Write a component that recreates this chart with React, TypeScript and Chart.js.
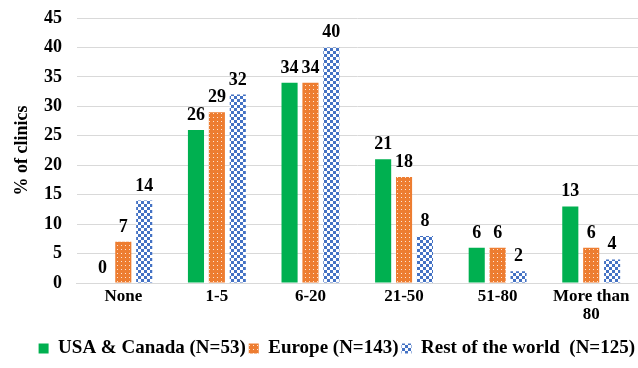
import React, { useEffect, useRef } from "react";
import { Chart, registerables } from "chart.js";

Chart.register(...registerables);

const categories: (string | string[])[] = ["None", "1-5", "6-20", "21-50", "51-80", ["More than", "80"]];
const usaCanada = [0, 26, 34, 21, 6, 13];
const europe = [7, 29, 34, 18, 6, 6];
const restOfWorld = [14, 32, 40, 8, 2, 4];
const seriesNames = ["USA & Canada (N=53)", "Europe (N=143)", "Rest of the world  (N=125)"];
const yTicks = { min: 0, max: 45, step: 5 };

const FONT = "'Liberation Serif', 'Times New Roman', serif";

function dotPattern(): CanvasPattern | string {
  const c = document.createElement("canvas");
  c.width = 4;
  c.height = 4;
  const ctx = c.getContext("2d");
  if (!ctx) return "#ED7D31";
  ctx.fillStyle = "#ED7D31";
  ctx.fillRect(0, 0, 4, 4);
  ctx.fillStyle = "rgba(255,255,255,0.8)";
  ctx.fillRect(1, 1, 1, 1);
  return ctx.createPattern(c, "repeat") || "#ED7D31";
}

function checkPattern(): CanvasPattern | string {
  const c = document.createElement("canvas");
  c.width = 6;
  c.height = 6;
  const ctx = c.getContext("2d");
  if (!ctx) return "#4472C4";
  ctx.fillStyle = "#ffffff";
  ctx.fillRect(0, 0, 6, 6);
  ctx.fillStyle = "#4472C4";
  ctx.fillRect(0, 0, 3, 3);
  ctx.fillRect(3, 3, 3, 3);
  return ctx.createPattern(c, "repeat") || "#4472C4";
}

const labelPlugin = {
  id: "barLabels",
  afterDatasetsDraw(chart: any) {
    const ctx = chart.ctx;
    ctx.save();
    ctx.font = `bold 18px ${FONT}`;
    ctx.fillStyle = "#000";
    ctx.textAlign = "center";
    ctx.textBaseline = "alphabetic";
    chart.data.datasets.forEach((ds: any, i: number) => {
      const meta = chart.getDatasetMeta(i);
      meta.data.forEach((bar: any, j: number) => {
        ctx.fillText(String(ds.data[j]), bar.x, bar.y - 10);
      });
    });
    ctx.restore();
  },
};

export default function App() {
  const ref = useRef<HTMLCanvasElement>(null);
  useEffect(() => {
    if (!ref.current) return;
    const chart = new Chart(ref.current, {
      type: "bar",
      data: {
        labels: categories,
        datasets: [
          { label: seriesNames[0], data: usaCanada, backgroundColor: "#00B050" },
          { label: seriesNames[1], data: europe, backgroundColor: dotPattern() as any },
          { label: seriesNames[2], data: restOfWorld, backgroundColor: checkPattern() as any },
        ],
      },
      options: {
        animation: false,
        responsive: false,
        maintainAspectRatio: false,
        layout: { padding: { left: 8, right: 0, top: 0, bottom: 0 } },
        datasets: { bar: { categoryPercentage: 0.67, barPercentage: 0.77 } } as any,
        plugins: {
          tooltip: { enabled: false },
          legend: {
            position: "bottom",
            align: "end",
            labels: {
              font: { family: FONT, size: 19, weight: "bold" },
              color: "#000",
              boxWidth: 10,
              boxHeight: 10,
              padding: 3,
            },
          },
        },
        scales: {
          x: {
            grid: { display: false, drawTicks: false },
            border: { color: "#d9d9d9" },
            ticks: {
              font: { family: FONT, size: 17, weight: "bold", lineHeight: 1.1 },
              color: "#000",
              maxRotation: 0,
              autoSkip: false,
              padding: 4,
            },
            afterFit(scale: any) {
              scale.height = 53;
            },
          },
          y: {
            min: yTicks.min,
            max: yTicks.max,
            ticks: { stepSize: yTicks.step, font: { family: FONT, size: 18, weight: "bold" }, color: "#000", padding: 14.5 },
            grid: { color: "#d9d9d9", drawTicks: false },
            border: { display: false },
            title: {
              display: true,
              text: "% of clinics",
              font: { family: FONT, size: 18, weight: "bold" },
              color: "#000",
              padding: { top: 4, bottom: 4 },
            },
            afterFit(scale: any) {
              scale.width = 68.5;
              scale.paddingTop = 18;
              scale.paddingBottom = 0;
            },
          },
        },
      },
      plugins: [labelPlugin],
    });
    return () => chart.destroy();
  }, []);
  return (
    <div style={{ position: "absolute", left: 0, top: 0, width: 638, height: 368, overflow: "hidden" }}>
      <canvas ref={ref} width={638} height={368} />
    </div>
  );
}
